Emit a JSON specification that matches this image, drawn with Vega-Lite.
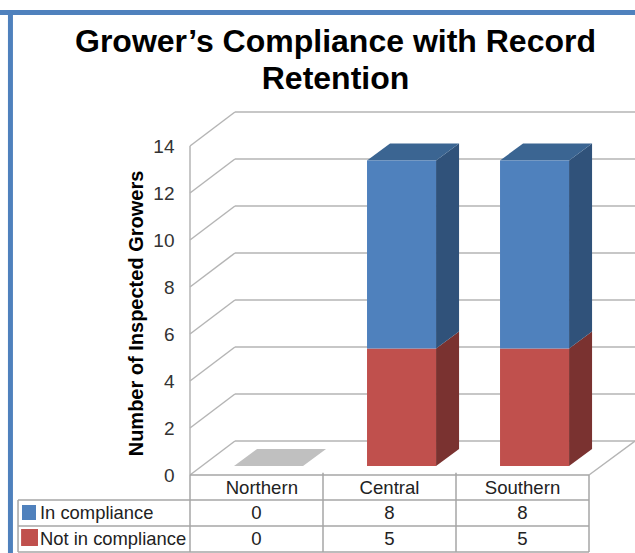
{
"$schema":"https://vega.github.io/schema/vega-lite/v6.json",
"width":635,"height":553,"padding":0,"autosize":{"type":"none"},
"background":"white",
"view":{"stroke":null},
"config":{"font":"Liberation Sans"},
"title":{"text":["Grower’s Compliance with Record","Retention"],"font":"Liberation Sans","fontSize":32,"fontWeight":"bold","color":"#000000","anchor":"middle","frame":"group","baseline":"top","lineHeight":37,"dx":18,"dy":100},
"datasets":{
"grid":[
{"x":0,"y":0,"x2":0,"y2":14},
{"x":0,"y":0,"x2":0.338,"y2":1.447},{"x":0.338,"y":1.447,"x2":3.346,"y2":1.447},
{"x":3,"y":0,"x2":3.346,"y2":1.447},
{"x":0,"y":2,"x2":0.338,"y2":3.447},{"x":0.338,"y":3.447,"x2":3.346,"y2":3.447},
{"x":0,"y":4,"x2":0.338,"y2":5.447},{"x":0.338,"y":5.447,"x2":3.346,"y2":5.447},
{"x":0,"y":6,"x2":0.338,"y2":7.447},{"x":0.338,"y":7.447,"x2":3.346,"y2":7.447},
{"x":0,"y":8,"x2":0.338,"y2":9.447},{"x":0.338,"y":9.447,"x2":3.346,"y2":9.447},
{"x":0,"y":10,"x2":0.338,"y2":11.447},{"x":0.338,"y":11.447,"x2":3.346,"y2":11.447},
{"x":0,"y":12,"x2":0.338,"y2":13.447},{"x":0.338,"y":13.447,"x2":3.346,"y2":13.447},
{"x":0,"y":14,"x2":0.338,"y2":15.447},{"x":0.338,"y":15.447,"x2":3.346,"y2":15.447}
],
"table":[
{"x":0,"y":0,"x2":3,"y2":0},
{"x":-1.293,"y":-1.064,"x2":3,"y2":-1.064},
{"x":-1.293,"y":-2.17,"x2":3,"y2":-2.17},
{"x":-1.293,"y":-3.277,"x2":3,"y2":-3.277},
{"x":-1.293,"y":-1.064,"x2":-1.293,"y2":-3.277},
{"x":0,"y":0,"x2":0,"y2":-3.277},
{"x":1,"y":0.1,"x2":1,"y2":-3.277},
{"x":2,"y":0.1,"x2":2,"y2":-3.277},
{"x":3,"y":0,"x2":3,"y2":-3.277}
],
"border":[
{"x":-1.44,"y":19.68,"x2":3.35,"y2":19.68},
{"x":-1.35,"y":19.78,"x2":-1.35,"y2":-3.32}
],
"fronts":[
{"x":1.331,"y":0,"x2":1.85,"y2":5,"part":"Not in compliance"},
{"x":1.331,"y":5,"x2":1.85,"y2":13,"part":"In compliance"},
{"x":2.331,"y":0,"x2":2.85,"y2":5,"part":"Not in compliance"},
{"x":2.331,"y":5,"x2":2.85,"y2":13,"part":"In compliance"}
],
"faces":[
{"face":"n floor","part":"Empty","x":0.331,"y":0.383,"y2":0.383},
{"face":"n floor","part":"Empty","x":0.504,"y":0.383,"y2":1.106},
{"face":"n floor","part":"Empty","x":0.85,"y":0.383,"y2":1.106},
{"face":"n floor","part":"Empty","x":1.023,"y":1.106,"y2":1.106},
{"face":"c side red","part":"Not side","x":1.85,"y":0.383,"y2":5.383},
{"face":"c side red","part":"Not side","x":2.023,"y":1.106,"y2":6.106},
{"face":"c side blue","part":"In side","x":1.85,"y":5.383,"y2":13.383},
{"face":"c side blue","part":"In side","x":2.023,"y":6.106,"y2":14.106},
{"face":"c top","part":"In top","x":1.331,"y":13.383,"y2":13.383},
{"face":"c top","part":"In top","x":1.504,"y":13.383,"y2":14.106},
{"face":"c top","part":"In top","x":1.85,"y":13.383,"y2":14.106},
{"face":"c top","part":"In top","x":2.023,"y":14.106,"y2":14.106},
{"face":"s side red","part":"Not side","x":2.85,"y":0.383,"y2":5.383},
{"face":"s side red","part":"Not side","x":3.023,"y":1.106,"y2":6.106},
{"face":"s side blue","part":"In side","x":2.85,"y":5.383,"y2":13.383},
{"face":"s side blue","part":"In side","x":3.023,"y":6.106,"y2":14.106},
{"face":"s top","part":"In top","x":2.331,"y":13.383,"y2":13.383},
{"face":"s top","part":"In top","x":2.504,"y":13.383,"y2":14.106},
{"face":"s top","part":"In top","x":2.85,"y":13.383,"y2":14.106},
{"face":"s top","part":"In top","x":3.023,"y":14.106,"y2":14.106}
],
"swatches":[
{"x":-1.263,"x2":-1.158,"y":-1.276,"y2":-1.915,"part":"In compliance"},
{"x":-1.27,"x2":-1.143,"y":-2.298,"y2":-3.02,"part":"Not in compliance"}
],
"centered":[
{"x":0.54,"y":-0.55,"label":"Northern"},
{"x":1.5,"y":-0.55,"label":"Central"},
{"x":2.5,"y":-0.55,"label":"Southern"},
{"x":0.5,"y":-1.62,"label":"0"},
{"x":1.5,"y":-1.62,"label":"8"},
{"x":2.5,"y":-1.62,"label":"8"},
{"x":0.5,"y":-2.73,"label":"0"},
{"x":1.5,"y":-2.73,"label":"5"},
{"x":2.5,"y":-2.73,"label":"5"}
],
"left":[
{"x":-1.128,"y":-1.62,"label":"In compliance"},
{"x":-1.128,"y":-2.73,"label":"Not in compliance"}
]
},
"encoding":{
"x":{"field":"x","type":"quantitative","scale":{"domain":[-1.42857,3.34586],"range":[0,635],"nice":false,"zero":false},"axis":null},
"y":{"field":"y","type":"quantitative","scale":{"domain":[-3.319,20.213],"range":[553,0],"nice":false,"zero":false},
"axis":{"values":[0,2,4,6,8,10,12,14],"orient":"left","offset":-178,"grid":false,"domain":false,"ticks":false,"labelPadding":4,"labelFont":"Liberation Sans","labelFontSize":19,"labelColor":"#333333","title":"Number of Inspected Growers","titleFont":"Liberation Sans","titleFontSize":20,"titleFontWeight":"bold","titleColor":"#000000","titleAngle":-90,"titleAlign":"center","titleBaseline":"middle","titleX":-42,"titleY":313}}
},
"layer":[
{"data":{"name":"border"},"mark":{"type":"rule","color":"#4f81bd","strokeWidth":5},"encoding":{"x2":{"field":"x2"},"y2":{"field":"y2"}}},
{"data":{"name":"grid"},"mark":{"type":"rule","color":"#b5b5b5","strokeWidth":1.5},"encoding":{"x2":{"field":"x2"},"y2":{"field":"y2"}}},
{"data":{"name":"table"},"mark":{"type":"rule","color":"#a6a6a6","strokeWidth":1.5},"encoding":{"x2":{"field":"x2"},"y2":{"field":"y2"}}},
{"data":{"name":"faces"},"mark":{"type":"area"},"encoding":{"y2":{"field":"y2"},"detail":{"field":"face","type":"nominal"},
"color":{"field":"part","type":"nominal","legend":null,"scale":{"domain":["In compliance","Not in compliance","In side","Not side","In top","Empty"],"range":["#4f81bd","#c0504d","#30527a","#7a3230","#3b6592","#c0c0c0"]}}}},
{"data":{"name":"fronts"},"mark":{"type":"rect","yOffset":-9,"y2Offset":-9},"encoding":{"x2":{"field":"x2"},"y2":{"field":"y2"},"color":{"field":"part","type":"nominal","legend":null}}},
{"data":{"name":"swatches"},"mark":{"type":"rect"},"encoding":{"x2":{"field":"x2"},"y2":{"field":"y2"},"color":{"field":"part","type":"nominal","legend":null}}},
{"data":{"name":"centered"},"mark":{"type":"text","align":"center","baseline":"middle","font":"Liberation Sans","fontSize":18.6,"color":"#222222"},"encoding":{"text":{"field":"label"}}},
{"data":{"name":"left"},"mark":{"type":"text","align":"left","baseline":"middle","font":"Liberation Sans","fontSize":18.4,"color":"#222222"},"encoding":{"text":{"field":"label"}}}
]
}
